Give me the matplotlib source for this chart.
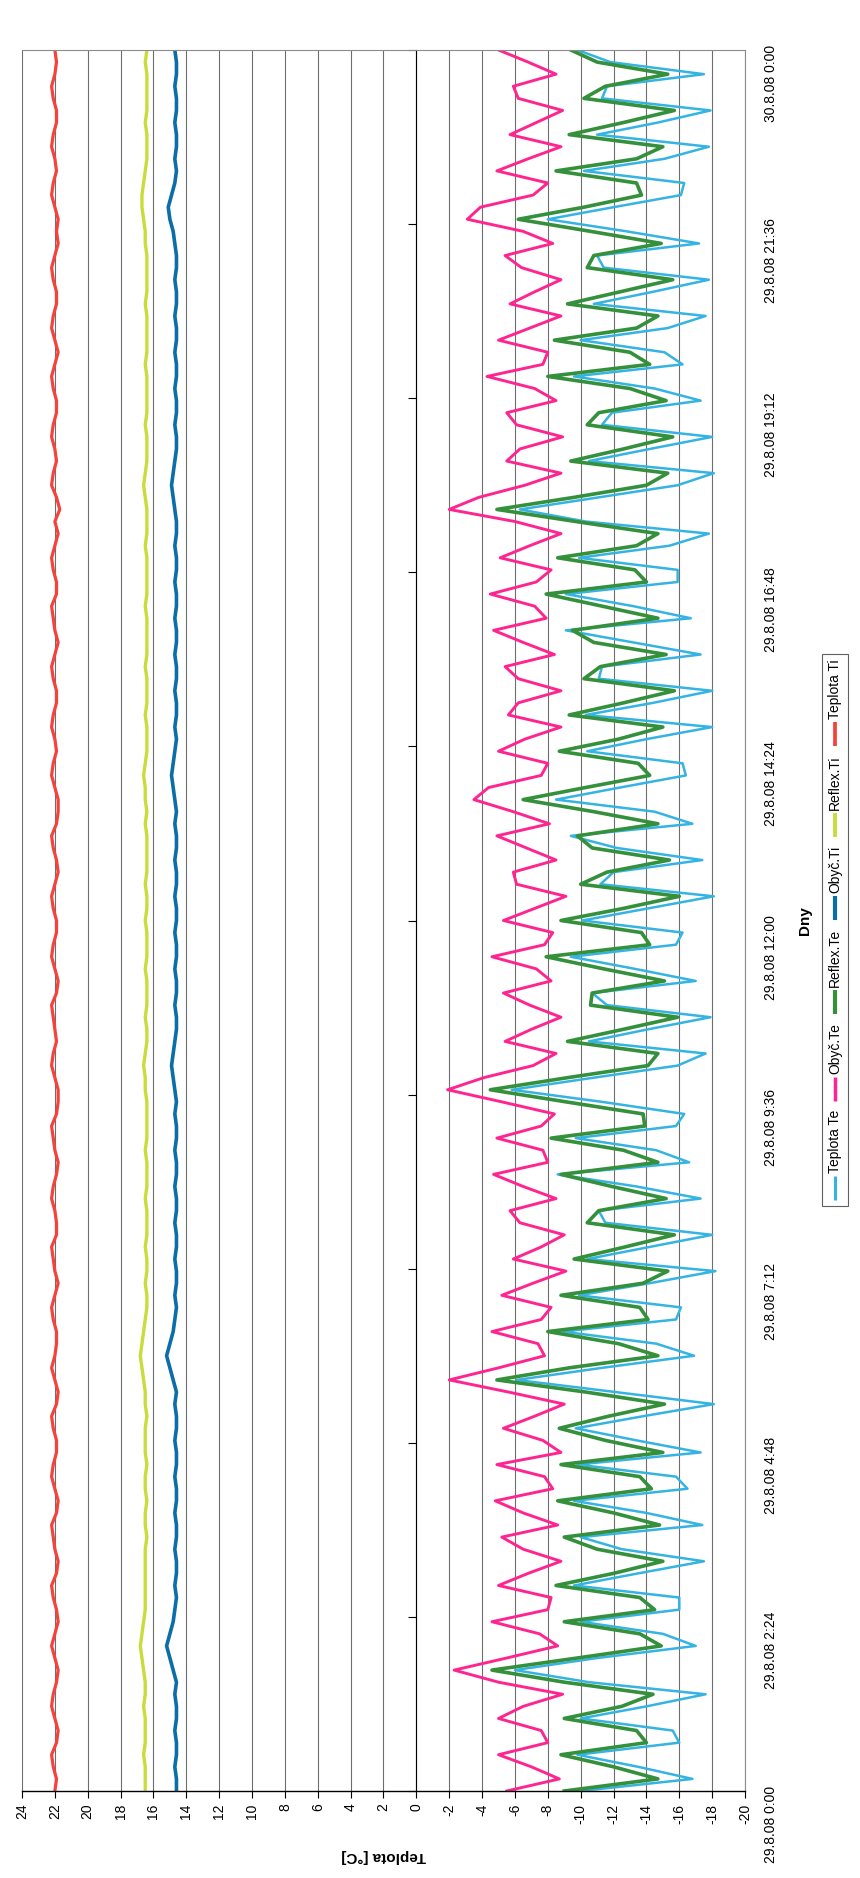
import numpy as np
import pandas as pd
import matplotlib
matplotlib.use("Agg")
import matplotlib.pyplot as plt
from matplotlib.patches import Rectangle

plt.rcParams['font.family'] = ['Liberation Sans', 'DejaVu Sans']

# mereni po 10 minutach, 29.8.08 0:00 - 30.8.08 0:00
cas = pd.date_range('2008-08-29 00:00', '2008-08-30 00:00', freq='10min').to_pydatetime()

teplota_te = [
    -10.0, -16.8, -13.5, -9.8, -16.0, -15.6, -10.0, -14.0, -17.6, -10.5,
    -6.0, -11.0, -17.0, -15.0, -10.0, -16.0, -16.0, -9.6, -13.5, -17.5,
    -12.5, -10.0, -17.4, -14.0, -9.6, -16.5, -15.8, -9.8, -17.3, -13.4,
    -9.7, -13.8, -18.1, -12.1, -6.1, -11.3, -16.9, -14.6, -8.9, -15.8,
    -16.1, -9.9, -14.2, -18.2, -10.4, -14.2, -18.0, -11.5, -11.1, -17.3,
    -13.4, -8.6, -16.6, -14.6, -9.7, -15.8, -16.3, -11.3, -5.8, -10.8,
    -15.9, -17.6, -10.5, -14.1, -17.9, -11.6, -10.7, -17.0, -13.3, -9.4,
    -15.8, -16.2, -10.1, -14.1, -18.1, -11.2, -12.0, -17.4, -12.2, -9.4,
    -16.8, -14.5, -8.5, -12.4, -16.4, -16.2, -10.4, -14.0, -18.0, -10.3,
    -14.4, -18.0, -11.1, -11.3, -17.3, -13.2, -9.1, -16.7, -13.2, -9.1,
    -15.9, -15.9, -9.9, -15.4, -17.8, -10.3, -6.3, -11.1, -15.9, -18.1,
    -10.5, -14.2, -18.0, -11.3, -11.9, -17.3, -14.5, -9.6, -16.2, -15.1,
    -10.0, -15.3, -17.6, -10.8, -14.4, -17.8, -11.4, -11.0, -17.2, -12.8,
    -8.0, -12.0, -16.1, -16.3, -10.2, -15.1, -17.8, -11.0, -14.7, -17.9,
    -11.3, -11.6, -17.5, -11.8, -9.8]

obyc_te = [
    -5.5, -8.7, -7.0, -5.0, -8.0, -7.6, -5.0, -6.5, -8.9, -5.0,
    -2.3, -5.5, -8.6, -7.5, -4.6, -8.0, -8.2, -5.0, -6.8, -8.8,
    -6.5, -5.2, -8.6, -6.5, -4.8, -8.3, -7.8, -4.9, -8.8, -7.7,
    -5.3, -7.2, -9.0, -5.6, -2.0, -5.0, -7.8, -7.4, -4.6, -7.6,
    -8.2, -5.2, -7.1, -9.1, -5.9, -7.6, -9.0, -6.3, -5.7, -8.5,
    -6.5, -4.7, -8.0, -7.7, -4.9, -7.6, -8.4, -5.2, -1.9, -4.1,
    -7.1, -8.5, -5.4, -7.0, -8.8, -6.9, -5.3, -8.2, -7.3, -4.6,
    -7.8, -8.3, -5.3, -7.2, -9.1, -6.1, -5.9, -8.5, -6.7, -4.9,
    -8.1, -5.9, -3.5, -4.4, -7.6, -8.0, -5.0, -6.6, -8.8, -5.6,
    -6.2, -8.8, -6.2, -5.4, -8.4, -6.5, -4.7, -7.9, -7.2, -4.5,
    -7.3, -8.2, -5.1, -6.9, -8.8, -6.0, -2.0, -3.8, -6.6, -8.8,
    -5.5, -6.3, -8.9, -6.1, -5.5, -8.5, -7.2, -4.3, -7.7, -8.0,
    -5.0, -6.9, -8.8, -5.7, -7.2, -8.8, -6.4, -5.4, -8.3, -6.5,
    -3.1, -3.9, -7.1, -8.0, -4.9, -6.8, -8.8, -5.7, -7.3, -8.9,
    -6.2, -5.9, -8.5, -6.8, -5.0]

reflex_te = [
    -9.0, -14.7, -12.0, -8.8, -14.0, -13.4, -9.0, -12.5, -14.4, -9.0,
    -4.6, -9.8, -14.9, -13.6, -9.0, -14.5, -13.6, -8.5, -12.0, -15.0,
    -11.0, -9.0, -14.8, -12.0, -8.6, -14.3, -13.6, -8.8, -15.0, -11.5,
    -8.7, -11.7, -15.1, -10.3, -4.9, -9.3, -14.7, -12.3, -8.0, -14.1,
    -13.6, -8.8, -13.8, -15.3, -9.6, -12.7, -15.7, -10.4, -11.1, -15.2,
    -11.9, -8.8, -14.7, -12.6, -8.2, -13.9, -13.8, -9.1, -4.5, -9.2,
    -14.1, -14.7, -9.2, -12.6, -15.9, -10.6, -10.7, -15.1, -11.4, -7.9,
    -14.2, -13.7, -8.8, -12.6, -16.0, -10.0, -11.6, -15.4, -10.7, -9.8,
    -14.7, -10.8, -6.5, -10.3, -14.2, -13.5, -8.7, -12.3, -15.0, -9.3,
    -12.6, -15.7, -10.2, -11.2, -15.2, -10.8, -9.5, -14.7, -11.3, -7.9,
    -14.0, -13.3, -8.6, -13.4, -14.7, -9.7, -4.9, -9.6, -14.0, -15.3,
    -9.4, -12.6, -15.6, -10.4, -11.1, -15.2, -13.0, -8.0, -14.2, -13.0,
    -8.4, -13.4, -14.7, -9.2, -12.4, -15.6, -10.4, -10.8, -14.9, -10.6,
    -6.2, -10.2, -13.7, -13.4, -8.5, -13.4, -15.0, -9.3, -12.6, -15.7,
    -10.2, -11.5, -15.3, -11.0, -9.4]

obyc_ti = [
    14.6, 14.6, 14.7, 14.6, 14.6, 14.7, 14.6, 14.6, 14.7, 14.6,
    14.8, 15.0, 15.2, 15.0, 14.8, 14.7, 14.6, 14.7, 14.6, 14.6,
    14.7, 14.6, 14.6, 14.7, 14.6, 14.6, 14.7, 14.6, 14.6, 14.7,
    14.6, 14.6, 14.7, 14.6, 14.8, 15.0, 15.2, 15.0, 14.8, 14.7,
    14.6, 14.7, 14.6, 14.6, 14.7, 14.6, 14.6, 14.7, 14.6, 14.6,
    14.7, 14.6, 14.6, 14.7, 14.6, 14.6, 14.7, 14.6, 14.7, 14.8,
    14.9, 14.8, 14.7, 14.6, 14.6, 14.7, 14.6, 14.6, 14.7, 14.6,
    14.6, 14.7, 14.6, 14.6, 14.7, 14.6, 14.6, 14.7, 14.6, 14.6,
    14.7, 14.6, 14.7, 14.8, 14.9, 14.8, 14.7, 14.6, 14.7, 14.6,
    14.6, 14.7, 14.6, 14.6, 14.7, 14.6, 14.6, 14.7, 14.6, 14.6,
    14.7, 14.6, 14.6, 14.7, 14.6, 14.6, 14.7, 14.8, 14.9, 14.8,
    14.7, 14.6, 14.6, 14.7, 14.6, 14.6, 14.7, 14.6, 14.6, 14.7,
    14.6, 14.6, 14.7, 14.6, 14.6, 14.7, 14.6, 14.6, 14.7, 14.8,
    15.0, 15.1, 14.9, 14.7, 14.6, 14.7, 14.6, 14.6, 14.7, 14.6,
    14.6, 14.7, 14.6, 14.6, 14.7]

reflex_ti = [
    16.5, 16.5, 16.5, 16.6, 16.5, 16.5, 16.5, 16.6, 16.5, 16.5,
    16.6, 16.7, 16.8, 16.7, 16.6, 16.5, 16.5, 16.5, 16.5, 16.5,
    16.5, 16.4, 16.5, 16.5, 16.4, 16.5, 16.5, 16.4, 16.5, 16.5,
    16.5, 16.4, 16.5, 16.5, 16.6, 16.7, 16.8, 16.7, 16.6, 16.5,
    16.4, 16.4, 16.5, 16.4, 16.4, 16.5, 16.4, 16.4, 16.4, 16.5,
    16.4, 16.4, 16.4, 16.5, 16.4, 16.4, 16.4, 16.4, 16.5, 16.5,
    16.6, 16.5, 16.4, 16.4, 16.5, 16.4, 16.4, 16.4, 16.5, 16.4,
    16.4, 16.4, 16.5, 16.4, 16.4, 16.5, 16.4, 16.4, 16.4, 16.4,
    16.5, 16.4, 16.5, 16.5, 16.6, 16.5, 16.4, 16.4, 16.4, 16.5,
    16.4, 16.4, 16.4, 16.5, 16.4, 16.4, 16.4, 16.4, 16.5, 16.4,
    16.4, 16.4, 16.4, 16.5, 16.4, 16.4, 16.4, 16.5, 16.6, 16.5,
    16.4, 16.4, 16.4, 16.5, 16.4, 16.4, 16.4, 16.4, 16.5, 16.4,
    16.4, 16.4, 16.4, 16.5, 16.4, 16.4, 16.4, 16.4, 16.5, 16.5,
    16.6, 16.7, 16.7, 16.6, 16.5, 16.4, 16.4, 16.4, 16.5, 16.4,
    16.4, 16.4, 16.4, 16.5, 16.4]

teplota_ti = [
    22.0, 21.9, 22.1, 22.2, 21.9, 21.8, 22.0, 22.2, 22.1, 21.9,
    21.8, 22.0, 22.2, 22.0, 21.8, 21.9, 22.1, 22.2, 21.9, 21.8,
    22.0, 22.1, 22.2, 21.9, 21.8, 22.0, 22.2, 22.1, 21.9, 21.9,
    22.1, 22.2, 21.9, 21.8, 22.0, 22.2, 22.0, 21.9, 21.9, 22.1,
    22.2, 22.0, 21.8, 22.0, 22.1, 22.2, 21.9, 21.9, 22.0, 22.2,
    22.1, 21.9, 21.8, 22.0, 22.1, 22.2, 21.9, 21.8, 21.8, 22.0,
    22.2, 22.1, 21.9, 22.0, 22.1, 22.2, 21.9, 21.8, 22.0, 22.2,
    22.1, 21.9, 21.9, 22.1, 22.2, 22.0, 21.8, 21.9, 22.1, 22.2,
    21.9, 21.8, 21.8, 22.0, 22.2, 22.1, 21.9, 22.0, 22.2, 22.1,
    21.9, 21.9, 22.1, 22.2, 22.0, 21.8, 22.0, 22.1, 22.2, 21.9,
    21.9, 22.1, 22.2, 22.0, 21.8, 22.0, 21.7, 21.9, 22.2, 22.1,
    21.9, 22.0, 22.2, 22.1, 21.9, 21.9, 22.1, 22.2, 22.0, 21.8,
    22.0, 22.2, 22.1, 21.9, 21.9, 22.1, 22.2, 22.0, 21.8, 21.9,
    21.8, 22.0, 22.2, 22.1, 21.9, 22.0, 22.2, 22.1, 21.9, 21.9,
    22.1, 22.2, 22.0, 21.9, 22.0]

# nazev, data, barva, tloustka
serie = [
    ("Teplota Te", teplota_te, "#35b4e4", 1.8),
    ("Obyč.Te", obyc_te, "#ff2590", 2.1),
    ("Reflex.Te", reflex_te, "#35903c", 2.6),
    ("Obyč.Ti", obyc_ti, "#0b6ea8", 2.6),
    ("Reflex.Ti", reflex_ti, "#c9dc3a", 2.4),
    ("Teplota Ti", teplota_ti, "#f5423a", 2.3),
]

W, H = 860, 1878
fig = plt.figure(figsize=(W / 100, H / 100), dpi=100)
ax = fig.add_axes([22 / W, 87 / H, 723 / W, 1741 / H])
ax.set_axisbelow(True)

for nazev, hodnoty, barva, tl in serie:
    ax.plot(hodnoty, cas, color=barva, lw=tl, label=nazev)

# osa teplot (vodorovne, otocene)
ax.set_xlim(24, -20)
xt = np.arange(-20, 25, 2)
ax.set_xticks(xt)
ax.set_xticklabels([str(v) for v in xt], fontsize=10)
ax.tick_params(axis='x', direction='out', length=5, width=0.8, pad=4, labelrotation=90)
ax.grid(axis='x', color='#6e6e6e', lw=0.8)

# osa casu (svisle), popisky vpravo, carky na ose v nule
ax.set_ylim(cas[0], cas[-1])
yt = pd.date_range(cas[0], cas[-1], freq='144min').to_pydatetime()
ax.set_yticks(yt)
ax.set_yticklabels([f"{d.day}.{d.month}.08 {d.hour}:{d.minute:02d}" for d in yt], fontsize=9.5)
ax.tick_params(axis='y', left=True, right=False, labelleft=False, labelright=True,
               direction='out', length=6, width=0.8, pad=8, labelrotation=90)
for tick in ax.yaxis.get_major_ticks():
    tick.label2.set_va('center')
    tick.label2.set_ha('left')

ax.spines['left'].set_position(('data', 0))
ax.spines['left'].set_color('black')
ax.spines['left'].set_linewidth(0.8)
ax.spines['bottom'].set_color('black')
ax.spines['bottom'].set_linewidth(1.0)
for s in ('top', 'right'):
    ax.spines[s].set_color('#8c8c8c')
    ax.spines[s].set_linewidth(0.8)

ax.set_xlabel('Teplota [°C]', rotation=180, fontsize=11, fontweight='bold')
ax.xaxis.set_label_coords(0.5, (22 - 87) / 1741)
ax.xaxis.label.set_va('center')
ax.yaxis.set_label_position('right')
ax.set_ylabel('Dny', rotation=90, fontsize=11, fontweight='bold')
ax.yaxis.set_label_coords((805 - 22) / 723, 0.5)
ax.yaxis.label.set_va('center')
ax.yaxis.label.set_ha('center')

# legenda - otocena, skladana rucne
lg = fig.add_axes([0, 0, 1, 1])
lg.set_xlim(0, W)
lg.set_ylim(0, H)
lg.set_axis_off()
lg.patch.set_alpha(0)
renderer = fig.canvas.get_renderer()
polozky = []
for nazev, _, barva, tl in serie:
    t = lg.text(0, 0, nazev, rotation=90, fontsize=10, ha='center', va='bottom')
    polozky.append((t, t.get_window_extent(renderer).height, barva, tl))

cara, mezera1, mezera2, okraj = 24, 3, 9, 6
delka = sum(cara + mezera1 + h for _, h, _, _ in polozky) + mezera2 * (len(polozky) - 1) + 2 * okraj
sx = 835
y = (H - 930) - delka / 2
lg.add_patch(Rectangle((sx - 13, y), 26, delka, fill=False, edgecolor='#606060', lw=0.8))
y += okraj
for t, h, barva, tl in polozky:
    lg.plot([sx, sx], [y, y + cara], color=barva, lw=tl + 0.4, solid_capstyle='butt')
    y += cara + mezera1
    t.set_position((sx, y))
    y += h + mezera2

fig.savefig('out.png', dpi=100, facecolor='white')
